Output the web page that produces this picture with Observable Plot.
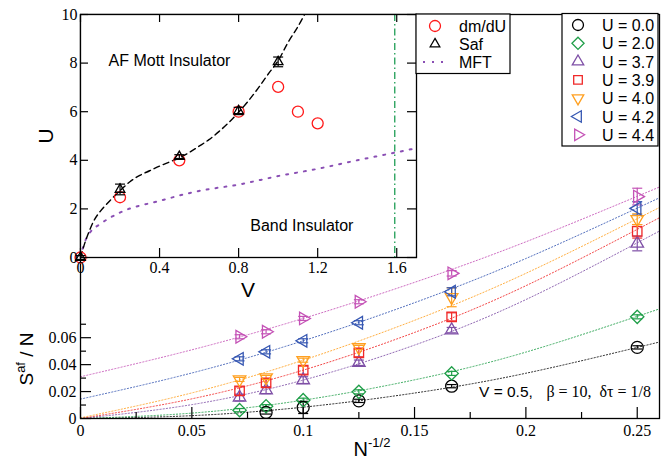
<!DOCTYPE html>
<html><head><meta charset="utf-8">
<script src="https://cdn.jsdelivr.net/npm/d3@7"></script>
<script src="https://cdn.jsdelivr.net/npm/@observablehq/plot@0.6"></script>
<style>
body{margin:0;background:#fff}
#wrap{position:relative;width:668px;height:465px;overflow:hidden;background:#fff}
#wrap svg{position:absolute;left:0;top:0}
</style></head><body><div id="wrap"></div>
<script>
// ---------- main plot data ----------
const invSqrtN = [1/14, 1/12, 1/10, 1/8, 1/6, 1/4];
const uLabels = ["U = 0.0","U = 2.0","U = 3.7","U = 3.9","U = 4.0","U = 4.2","U = 4.4"];
const uColors = ["#000000","#1f9e48","#7e4fa6","#f02828","#ffa020","#3657b2","#c452b6"];
const uShapes = ["circle","diamond","up","square","down","left","right"];

const sU00 = [null, 0.0045, 0.0082, 0.0131, 0.0240, 0.0528];
const eU00 = [null, 0.0012, 0.0045, 0.0012, 0.0012, 0.0012];
const sU20 = [0.0062, 0.0091, 0.0136, 0.0198, 0.0335, 0.0755];
const eU20 = [0.0012, 0.0012, 0.0015, 0.0015, 0.0015, 0.0015];
const sU37 = [0.0156, 0.0210, 0.0285, 0.0414, 0.0656, 0.1300];
const eU37 = [0.0025, 0.0025, 0.0025, 0.0020, 0.0020, 0.0055];
const sU39 = [0.0205, 0.0265, 0.0359, 0.0488, 0.0755, 0.1390];
const eU39 = [0.0030, 0.0030, 0.0030, 0.0030, 0.0030, 0.0050];
const sU40 = [0.0290, 0.0305, 0.0433, 0.0528, 0.0900, 0.1480];
const eU40 = [0.0015, 0.0015, 0.0015, 0.0015, 0.0070, 0.0040];
const sU42 = [0.0443, 0.0495, 0.0577, 0.0711, 0.0941, 0.1560];
const eU42 = [0.0015, 0.0015, 0.0015, 0.0015, 0.0030, 0.0050];
const sU44 = [0.0607, 0.0644, 0.0743, 0.0867, 0.1078, 0.1648];
const eU44 = [0.0015, 0.0015, 0.0015, 0.0015, 0.0020, 0.0062];

// fitted curves, read at these abscissae
const fitX = [0, 0.05, 0.1, 0.15, 0.2, 0.26];
const fU00 = [0, 0.0021, 0.0084, 0.0189, 0.0336, 0.0568];
const fU20 = [0, 0.0040, 0.0136, 0.0287, 0.0493, 0.0814];
const fU37 = [0, 0.0103, 0.0285, 0.0545, 0.0883, 0.1392];
const fU39 = [0, 0.0146, 0.0359, 0.0639, 0.0986, 0.1491];
const fU40 = [0.0005, 0.0190, 0.0433, 0.0729, 0.1078, 0.1567];
const fU42 = [0.0144, 0.0338, 0.0577, 0.0860, 0.1188, 0.1639];
const fU44 = [0.0310, 0.0510, 0.0743, 0.1011, 0.1312, 0.1719];

const xMajor = [0, 0.05, 0.1, 0.15, 0.2, 0.25];
const xMinor = [0.025, 0.075, 0.125, 0.175, 0.225];
const yMajor = [0, 0.02, 0.04, 0.06];
const yMinor = [0.01, 0.03, 0.05, 0.07];

// ---------- inset data ----------
const vDmdU = [0, 0.2, 0.5, 0.8, 1.0, 1.1, 1.2];
const uDmdU = [0, 2.48, 4.0, 6.0, 7.02, 6.0, 5.52];
const vSaf = [0, 0.2, 0.5, 0.8, 1.0];
const uSaf = [0, 2.8, 4.15, 6.03, 8.05];
const eSaf = [0.08, 0.22, 0.08, 0.15, 0.2];
const vFit = [0, 0.02, 0.04, 0.07, 0.1, 0.15, 0.2, 0.25, 0.3, 0.35, 0.4, 0.45, 0.5, 0.55, 0.6, 0.65, 0.7, 0.75, 0.8, 0.85, 0.9, 0.95, 1.0, 1.05, 1.1, 1.14];
const uFit = [0, 0.55, 1.0, 1.55, 1.9, 2.35, 2.75, 3.12, 3.38, 3.57, 3.76, 3.93, 4.1, 4.32, 4.58, 4.85, 5.18, 5.55, 5.98, 6.45, 6.98, 7.55, 8.1, 8.85, 9.5, 10.1];
const vMft = [0, 0.02, 0.05, 0.1, 0.2, 0.4, 0.6, 0.8, 1.0, 1.2, 1.4, 1.6, 1.7];
const uMft = [0, 0.6, 1.05, 1.38, 1.85, 2.33, 2.74, 3.0, 3.35, 3.65, 4.0, 4.33, 4.5];
const vBandEdge = [1.59];
const vTicks = [0, 0.4, 0.8, 1.2, 1.6];
const uTicks = [0, 2, 4, 6, 8, 10];
const regionLabels = [
  {v: 0.45, u: 8.1, text: "AF Mott Insulator"},
  {v: 1.12, u: 1.31, text: "Band Insulator"}
];
const insetLegend = ["dm/dU", "Saf", "MFT"];

// ---------- helpers ----------
const SANS = "'Liberation Sans', Arial, Helvetica, sans-serif";
const SERIF = "'Liberation Serif', 'Times New Roman', 'DejaVu Serif', serif";
function tri(angle) {
  const a = angle * Math.PI / 180;
  return {draw(ctx, size) {
    const s = Math.sqrt(size) * 0.6824;
    const pts = [[0, -s], [s * Math.sqrt(3) / 2, s / 2], [-s * Math.sqrt(3) / 2, s / 2]]
      .map(([x, y]) => [x * Math.cos(a) - y * Math.sin(a), x * Math.sin(a) + y * Math.cos(a)]);
    ctx.moveTo(pts[0][0], pts[0][1]); ctx.lineTo(pts[1][0], pts[1][1]); ctx.lineTo(pts[2][0], pts[2][1]); ctx.closePath();
  }};
}
const symbolOf = {circle: d3.symbolCircle, diamond: d3.symbolDiamond2, square: d3.symbolSquare2,
  up: tri(0), down: tri(180), left: tri(-90), right: tri(90)};
const capSymbol = {draw(ctx, size) { const w = Math.sqrt(size / Math.PI); ctx.moveTo(-w, 0); ctx.lineTo(w, 0); }};
const fmt = d => String(d);
const noText = () => "";

const sData = [sU00, sU20, sU37, sU39, sU40, sU42, sU44];
const eData = [eU00, eU20, eU37, eU39, eU40, eU42, eU44];
const fData = [fU00, fU20, fU37, fU39, fU40, fU42, fU44];

const pointMarks = [], fitMarks = [], errMarks = [];
sData.forEach((vals, k) => {
  const rows = invSqrtN.map((x, i) => ({x, y: vals[i], e: eData[k][i]})).filter(d => d.y != null);
  const fit = fitX.map((x, i) => ({x, y: fData[k][i]}));
  const c = uColors[k];
  fitMarks.push(Plot.line(fit, {x: "x", y: "y", curve: "natural", stroke: c, strokeWidth: 1, strokeDasharray: "1.2,2", strokeOpacity: 0.85}));
  errMarks.push(Plot.ruleX(rows, {x: "x", y1: d => d.y - d.e, y2: d => d.y + d.e, stroke: c, strokeWidth: 1.2}));
  errMarks.push(Plot.dot(rows, {x: "x", y: d => d.y + d.e, symbol: capSymbol, r: 5, stroke: c, strokeWidth: 1.2}));
  errMarks.push(Plot.dot(rows, {x: "x", y: d => d.y - d.e, symbol: capSymbol, r: 5, stroke: c, strokeWidth: 1.2}));
  pointMarks.push(Plot.dot(rows, {x: "x", y: "y", symbol: symbolOf[uShapes[k]], r: 6, stroke: c, fill: "none", strokeWidth: 1.3}));
});

const main = Plot.plot({
  width: 668, height: 465,
  marginLeft: 80, marginRight: 9, marginTop: 14, marginBottom: 47,
  x: {domain: [0, 0.26]},
  y: {domain: [0, 0.3]},
  style: {fontFamily: SERIF, fontSize: "16px", color: "black"},
  marks: [
    ...fitMarks,
    ...errMarks,
    ...pointMarks,
    Plot.frame({stroke: "black", strokeWidth: 1.3}),
    Plot.axisX(xMajor, {tickSize: -11, tickFormat: noText, label: null, strokeWidth: 1.2}),
    Plot.axisX(xMinor, {tickSize: -6, tickFormat: noText, label: null, strokeWidth: 1.2}),
    Plot.axisX(xMajor, {tickSize: 0, tickPadding: 6, tickFormat: fmt, label: null, fontSize: 16, fontFamily: SERIF}),
    Plot.axisY(yMajor, {tickSize: -11, tickFormat: noText, label: null, strokeWidth: 1.2}),
    Plot.axisY(yMinor, {tickSize: -6, tickFormat: noText, label: null, strokeWidth: 1.2}),
    Plot.axisY(yMajor, {tickSize: 0, tickPadding: 4, tickFormat: fmt, label: null, fontSize: 16, fontFamily: SERIF})
  ]
});

const safRows = vSaf.map((v, i) => ({v, u: uSaf[i], e: eSaf[i]}));
const inset = Plot.plot({
  width: 520, height: 300,
  marginLeft: 80, marginRight: 104, marginTop: 14, marginBottom: 43,
  x: {domain: [0, 1.7]},
  y: {domain: [0, 10]},
  style: {fontFamily: SERIF, fontSize: "16px", color: "black", overflow: "visible"},
  marks: [
    Plot.frame({fill: "white", stroke: "none"}),
    Plot.line(vMft.map((v, i) => ({v, u: uMft[i]})), {x: "v", y: "u", curve: "monotone-x", stroke: "#8a4fb4", strokeWidth: 2, strokeDasharray: "2,7", clip: true}),
    Plot.line(vFit.map((v, i) => ({v, u: uFit[i]})), {x: "v", y: "u", curve: "catmull-rom", stroke: "black", strokeWidth: 1.4, strokeDasharray: "6,4", clip: true}),
    Plot.ruleX(vBandEdge, {stroke: "#1f9e55", strokeWidth: 1.3, strokeDasharray: "7,3,1.5,3"}),
    Plot.text(regionLabels, {x: "v", y: "u", text: "text", fontFamily: SANS, fontSize: 16, textAnchor: "middle", lineAnchor: "middle"}),
    Plot.dot(vDmdU.map((v, i) => ({v, u: uDmdU[i]})), {x: "v", y: "u", symbol: "circle", r: 5.5, stroke: "#ff1a1a", fill: "none", strokeWidth: 1.3}),
    Plot.ruleX(safRows, {x: "v", y1: d => d.u - d.e, y2: d => d.u + d.e, stroke: "black", strokeWidth: 1.2}),
    Plot.dot(safRows, {x: "v", y: d => d.u + d.e, symbol: capSymbol, r: 5, stroke: "black", strokeWidth: 1.2}),
    Plot.dot(safRows, {x: "v", y: d => d.u - d.e, symbol: capSymbol, r: 5, stroke: "black", strokeWidth: 1.2}),
    Plot.dot(safRows, {x: "v", y: "u", symbol: tri(0), r: 4.6, stroke: "black", fill: "none", strokeWidth: 1.3}),
    Plot.frame({stroke: "black", strokeWidth: 1.3}),
    Plot.axisX(vTicks, {anchor: "bottom", tickSize: -9, tickFormat: noText, label: null, strokeWidth: 1.2}),
    Plot.axisX(vTicks, {anchor: "top", tickSize: -7, tickFormat: noText, label: null, strokeWidth: 1.2}),
    Plot.axisX(vTicks, {anchor: "bottom", tickSize: 0, tickPadding: 4, tickFormat: fmt, label: null, fontSize: 16, fontFamily: SERIF}),
    Plot.axisY(uTicks, {anchor: "left", tickSize: -8, tickFormat: noText, label: null, strokeWidth: 1.2}),
    Plot.axisY(uTicks, {anchor: "right", tickSize: -10, tickFormat: noText, label: null, strokeWidth: 1.2}),
    Plot.axisY(uTicks, {anchor: "left", tickSize: 0, tickPadding: 3, tickFormat: fmt, label: null, fontSize: 16, fontFamily: SERIF})
  ]
});

const wrap = document.getElementById("wrap");
wrap.appendChild(main);
wrap.appendChild(inset);

// ---------- axis titles, annotation, legends ----------
const ms = d3.select(main);
const yl = ms.append("text").attr("transform", "translate(33,359) rotate(-90)")
  .attr("text-anchor", "middle").attr("font-family", SANS).attr("font-size", 19).attr("fill", "black");
yl.append("tspan").text("S");
yl.append("tspan").attr("dy", -8).attr("font-size", 13).text("af");
yl.append("tspan").attr("dy", 8).text(" / N");
const xl = ms.append("text").attr("x", 372).attr("y", 456)
  .attr("text-anchor", "middle").attr("font-family", SANS).attr("font-size", 20).attr("fill", "black");
xl.append("tspan").text("N");
xl.append("tspan").attr("dy", -9).attr("font-size", 13).text("-1/2");
ms.append("text").attr("x", 479).attr("y", 397).attr("text-anchor", "start").attr("font-family", SANS).attr("font-size", 15.5).text("V = 0.5,");
ms.append("text").attr("x", 651).attr("y", 397).attr("text-anchor", "end").attr("font-family", SERIF).attr("font-size", 16).text("β = 10,  δτ = 1/8");

const lg = ms.append("g");
lg.append("rect").attr("x", 562).attr("y", 13.5).attr("width", 96).attr("height", 132.5)
  .attr("fill", "white").attr("stroke", "black").attr("stroke-width", 1.2);
uLabels.forEach((lab, k) => {
  const cy = 25 + k * 18.3;
  lg.append("path").attr("d", d3.symbol(symbolOf[uShapes[k]], Math.PI * 30)())
    .attr("transform", `translate(578,${cy})`).attr("fill", "none").attr("stroke", uColors[k]).attr("stroke-width", 1.3);
  lg.append("text").attr("x", 602).attr("y", cy + 6).attr("text-anchor", "start").attr("font-family", SANS).attr("font-size", 16).text(lab);
});

const is = d3.select(inset);
is.append("text").attr("transform", "translate(53,136) rotate(-90)").attr("text-anchor", "middle")
  .attr("font-family", SANS).attr("font-size", 21).text("U");
is.append("text").attr("x", 248).attr("y", 297).attr("text-anchor", "middle")
  .attr("font-family", SANS).attr("font-size", 21).text("V");
const il = is.append("g");
il.append("rect").attr("x", 416).attr("y", 14).attr("width", 94).attr("height", 59.5)
  .attr("fill", "white").attr("stroke", "black").attr("stroke-width", 1.2);
[26, 44, 62].forEach((cy, k) => {
  if (k === 0) il.append("circle").attr("cx", 435).attr("cy", cy).attr("r", 5.5).attr("fill", "none").attr("stroke", "#ff1a1a").attr("stroke-width", 1.3);
  if (k === 1) il.append("path").attr("d", d3.symbol(tri(0), Math.PI * 4.6 * 4.6)()).attr("transform", `translate(435,${cy})`).attr("fill", "none").attr("stroke", "black").attr("stroke-width", 1.3);
  if (k === 2) il.append("line").attr("x1", 423).attr("x2", 448).attr("y1", cy).attr("y2", cy).attr("stroke", "#8a4fb4").attr("stroke-width", 2).attr("stroke-dasharray", "2,7");
  il.append("text").attr("x", 459).attr("y", cy + 6).attr("text-anchor", "start").attr("font-family", SANS).attr("font-size", 16).text(insetLegend[k]);
});
</script></body></html>
